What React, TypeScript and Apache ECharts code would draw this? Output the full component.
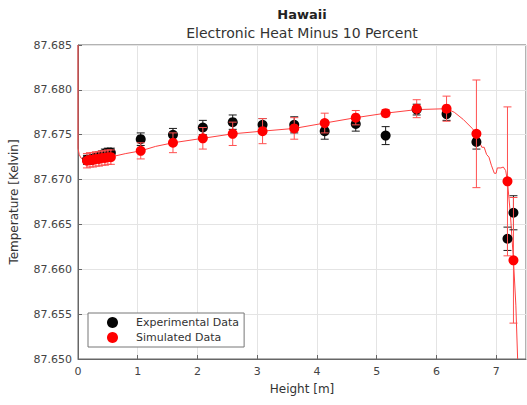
import React, { useEffect, useRef } from "react";
import * as echarts from "echarts";

// ---- data ----
const pointX = [0.15, 0.2, 0.25, 0.3, 0.35, 0.4, 0.45, 0.5, 0.55, 1.05, 1.59, 2.09, 2.59, 3.09, 3.62, 4.13, 4.65, 5.15, 5.67, 6.17, 6.67, 7.19, 7.29];
const expY = [87.6722, 87.6722, 87.6723, 87.6724, 87.6726, 87.6727, 87.6729, 87.673, 87.673, 87.6745, 87.675, 87.6758, 87.6764, 87.6761, 87.6761, 87.6754, 87.6762, 87.6749, 87.6778, 87.6773, 87.6742, 87.6634, 87.6663];
const expErr = [0.0005, 0.0005, 0.0005, 0.0005, 0.0005, 0.0005, 0.0005, 0.0005, 0.0005, 0.0007, 0.0007, 0.0008, 0.0008, 0.0007, 0.0009, 0.0009, 0.0008, 0.001, 0.0006, 0.0007, 0.0008, 0.0013, 0.0019];
const simY = [87.6721, 87.6722, 87.6722, 87.6723, 87.6723, 87.6724, 87.6724, 87.6725, 87.6725, 87.6732, 87.6741, 87.6746, 87.6751, 87.6754, 87.6757, 87.6763, 87.6769, 87.6774, 87.6779, 87.6779, 87.6751, 87.6698, 87.661];
const simErr = [0.0008, 0.0008, 0.0008, 0.0008, 0.0008, 0.0008, 0.0008, 0.0008, 0.0008, 0.0009, 0.0011, 0.0012, 0.0013, 0.0014, 0.0012, 0.0011, 0.0008, 0.0004, 0.001, 0.0014, 0.006, 0.0083, 0.007];

const curveX = [0, 0, 0.02, 0.05, 0.1, 0.2, 0.3, 0.4, 0.5, 0.6, 0.8, 1.05, 1.3, 1.59, 2.09, 2.59, 3.09, 3.62, 4.13, 4.65, 5.15, 5.67, 6.17, 6.3, 6.45, 6.6, 6.67, 6.72, 6.76, 6.8, 6.84, 6.88, 6.92, 6.97, 7.0, 7.02, 7.08, 7.12, 7.16, 7.19, 7.24, 7.29, 7.33, 7.36];
const curveY = [87.685, 87.6735, 87.6728, 87.6724, 87.6722, 87.6722, 87.6723, 87.6724, 87.6725, 87.6726, 87.6729, 87.6732, 87.6737, 87.6741, 87.6746, 87.6751, 87.6754, 87.6757, 87.6763, 87.6769, 87.6774, 87.6778, 87.6779, 87.6775, 87.6767, 87.6757, 87.6751, 87.6742, 87.6736, 87.6736, 87.6728, 87.6725, 87.6716, 87.6707, 87.6707, 87.6713, 87.6713, 87.6714, 87.671, 87.6698, 87.666, 87.661, 87.656, 87.65];

const yTicks = [87.65, 87.655, 87.66, 87.665, 87.67, 87.675, 87.68, 87.685];
const xTicks = [0, 1, 2, 3, 4, 5, 6, 7];

const FONT = "DejaVu Sans";

function errRender(color: string) {
  return (params: any, api: any) => {
    const x = api.value(0);
    const lo = api.value(1);
    const hi = api.value(2);
    const top = api.coord([x, hi]);
    const bot = api.coord([x, lo]);
    const w = 4;
    const st = { stroke: color, lineWidth: 1 };
    return {
      type: "group",
      children: [
        { type: "line", shape: { x1: top[0], y1: top[1], x2: bot[0], y2: bot[1] }, style: st },
        { type: "line", shape: { x1: top[0] - w, y1: top[1], x2: top[0] + w, y2: top[1] }, style: st },
        { type: "line", shape: { x1: bot[0] - w, y1: bot[1], x2: bot[0] + w, y2: bot[1] }, style: st },
      ],
    };
  };
}

export default function App() {
  const ref = useRef<HTMLDivElement>(null);
  useEffect(() => {
    if (!ref.current) return;
    const chart = echarts.init(ref.current, null, { renderer: "svg" });
    const expErrData = pointX.map((x, i) => [x, expY[i] - expErr[i], expY[i] + expErr[i]]);
    const simErrData = pointX.map((x, i) => [x, simY[i] - simErr[i], simY[i] + simErr[i]]);
    chart.setOption({
      animation: false,
      backgroundColor: "#ffffff",
      textStyle: { fontFamily: FONT },
      graphic: [
        {
          type: "text", x: 302, y: 14,
          style: { text: "Hawaii", textAlign: "center", align: "center", textVerticalAlign: "middle", verticalAlign: "middle", fontFamily: FONT, fontSize: 13, fontWeight: "bold", fill: "#222" },
        },
        {
          type: "text", x: 302, y: 33,
          style: { text: "Electronic Heat Minus 10 Percent", textAlign: "center", align: "center", textVerticalAlign: "middle", verticalAlign: "middle", fontFamily: FONT, fontSize: 14, fill: "#333" },
        },
      ],
      grid: { left: 78, top: 45, right: 1, bottom: 46, show: true, borderColor: "#666", borderWidth: 1 },
      legend: {
        data: [
          { name: "Experimental Data", icon: "circle", itemStyle: { color: "#050505", opacity: 1 } },
          { name: "Simulated Data", icon: "circle", itemStyle: { color: "#ff0000", opacity: 1 } },
        ],
        orient: "vertical",
        left: 88,
        top: 313,
        itemWidth: 11,
        itemHeight: 11,
        itemGap: 4,
        padding: [4, 5, 4, 19],
        backgroundColor: "#fff",
        borderColor: "#777",
        borderWidth: 1,
        borderRadius: 0,
        textStyle: { fontFamily: FONT, fontSize: 11, color: "#333", padding: [0, 0, 0, 13] },
      },
      xAxis: {
        type: "value",
        min: 0,
        max: 7.5,
        interval: 1,
        name: "Height [m]",
        nameLocation: "middle",
        nameGap: 24,
        nameTextStyle: { fontFamily: FONT, fontSize: 12, color: "#333" },
        axisLine: { show: true, lineStyle: { color: "#666" } },
        axisTick: { inside: true, length: 4, lineStyle: { color: "#666" } },
        axisLabel: {
          fontFamily: FONT, fontSize: 11, color: "#444", margin: 7, showMaxLabel: false,
          formatter: (v: number) => (xTicks.indexOf(v) >= 0 ? String(v) : ""),
        },
        splitLine: { show: true, lineStyle: { color: "#e4e4e4" } },
      },
      yAxis: {
        type: "value",
        min: yTicks[0],
        max: yTicks[yTicks.length - 1],
        interval: 0.005,
        name: "Temperature [Kelvin]",
        nameLocation: "middle",
        nameGap: 58,
        nameTextStyle: { fontFamily: FONT, fontSize: 12, color: "#333" },
        axisLine: { show: true, lineStyle: { color: "#666" } },
        axisTick: { inside: true, length: 4, lineStyle: { color: "#666" } },
        axisLabel: { fontFamily: FONT, fontSize: 11, color: "#444", margin: 6, formatter: (v: number) => v.toFixed(3) },
        splitLine: { show: true, lineStyle: { color: "#e4e4e4" } },
      },
      series: [
        {
          type: "line",
          name: "curve",
          data: curveX.map((x, i) => [x, curveY[i]]),
          showSymbol: false,
          symbol: "none",
          lineStyle: { color: "#ff4040", width: 1 },
          z: 1,
        },
        {
          type: "custom",
          name: "expErr",
          data: expErrData,
          renderItem: errRender("#1a1a1a"),
          z: 2,
        },
        {
          type: "scatter",
          name: "Experimental Data",
          data: pointX.map((x, i) => [x, expY[i]]),
          symbol: "circle",
          symbolSize: 10,
          itemStyle: { color: "#050505", opacity: 1 },
          z: 3,
        },
        {
          type: "custom",
          name: "simErr",
          data: simErrData,
          renderItem: errRender("#ff5050"),
          z: 4,
        },
        {
          type: "scatter",
          name: "Simulated Data",
          data: pointX.map((x, i) => [x, simY[i]]),
          symbol: "circle",
          symbolSize: 10,
          itemStyle: { color: "#ff0000", opacity: 1 },
          z: 5,
        },
      ],
    });
    return () => chart.dispose();
  }, []);
  return <div ref={ref} style={{ position: "fixed", left: 0, top: 0, width: 527, height: 405 }} />;
}
